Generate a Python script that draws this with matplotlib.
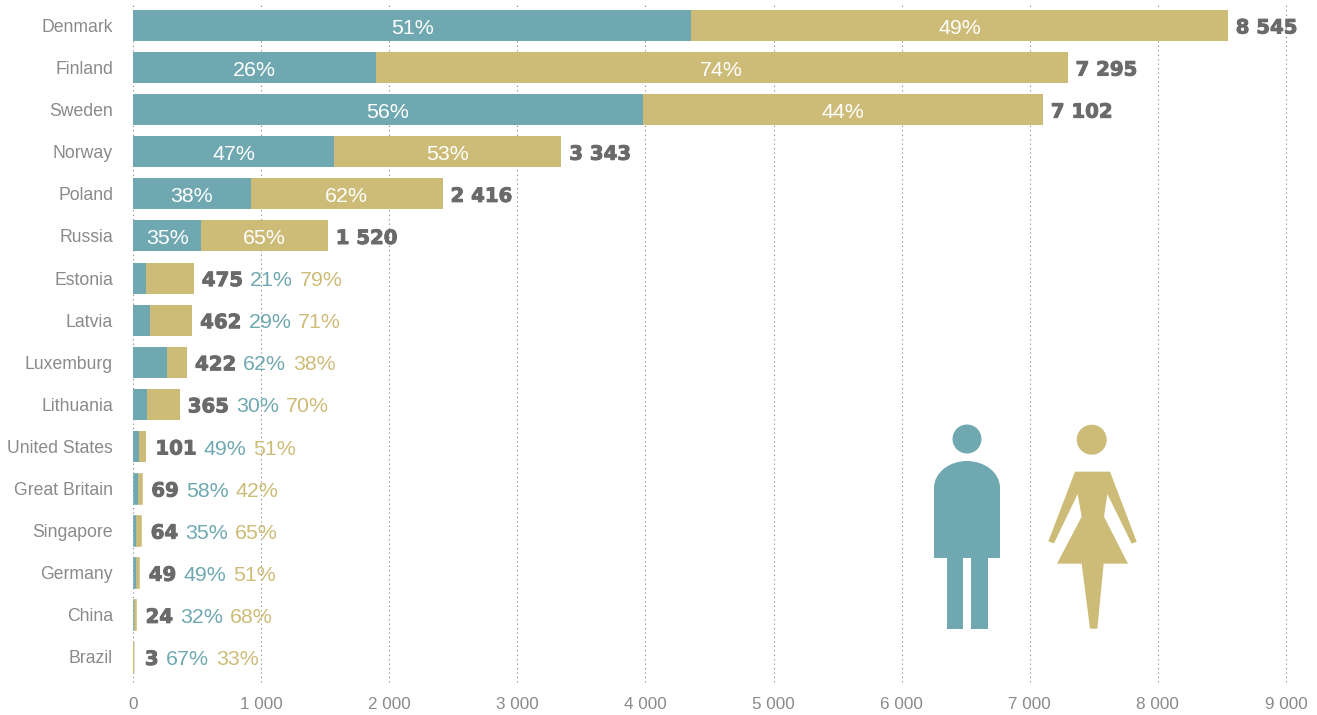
import matplotlib
matplotlib.use("Agg")
import matplotlib.pyplot as plt
import matplotlib.patheffects as pe
from matplotlib.patches import Circle, Polygon, PathPatch, Rectangle
from matplotlib.path import Path

countries = ["Denmark", "Finland", "Sweden", "Norway", "Poland", "Russia", "Estonia", "Latvia",
             "Luxemburg", "Lithuania", "United States", "Great Britain", "Singapore", "Germany",
             "China", "Brazil"]
totals = [8545, 7295, 7102, 3343, 2416, 1520, 475, 462, 422, 365, 101, 69, 64, 49, 24, 3]
men_pct = [51, 26, 56, 47, 38, 35, 21, 29, 62, 30, 49, 58, 35, 49, 32, 67]
women_pct = [49, 74, 44, 53, 62, 65, 79, 71, 38, 70, 51, 42, 65, 51, 68, 33]
x_ticks = [0, 1000, 2000, 3000, 4000, 5000, 6000, 7000, 8000, 9000]

TEAL = "#6FA8B0"
GOLD = "#CDBC78"
DARK = "#6A6A6A"
LABEL = "#8A8A8A"
FONT = "Liberation Sans"
W, H = 1317, 715


def spaced(n):
    return f"{n:,}".replace(",", " ")


fig = plt.figure(figsize=(W / 100, H / 100), dpi=100, facecolor="white")
ax = fig.add_axes([133 / W, 1 - 682 / H, (1286 - 133) / W, (682 - 3) / H])
ax.set_xlim(0, 9000)
ax.set_ylim(15.594, -0.534)
ax.set_axisbelow(True)
for s in ax.spines.values():
    s.set_visible(False)
ax.xaxis.grid(True, color="#808080", linestyle=(0, (1, 3)), linewidth=0.8)
for gl in ax.get_xgridlines():
    gl.set_clip_on(False)
ax.yaxis.grid(False)
ax.tick_params(length=0)

ys = list(range(len(countries)))
men = [t * p / 100 for t, p in zip(totals, men_pct)]
women = [t * p / 100 for t, p in zip(totals, women_pct)]
# Very short bars get a hairline outline so they stay visible
edge = [1.0 if t < 10 else 0.4 if t < 100 else 0 for t in totals]
ax.barh(ys, men, height=0.737, color=TEAL, edgecolor=TEAL, linewidth=edge, zorder=2)
ax.barh(ys, women, left=men, height=0.737, color=GOLD, edgecolor=GOLD, linewidth=edge, zorder=2)

ax.set_yticks(ys, countries, fontname=FONT, fontsize=12.7, color=LABEL)
ax.tick_params(axis="y", pad=14.4)
ax.set_xticks(x_ticks, [spaced(v) for v in x_ticks], fontname=FONT, fontsize=12.3, color=LABEL)
ax.tick_params(axis="x", pad=11)

INSIDE_MIN = 1000
heavy = [pe.withStroke(linewidth=0.7, foreground=DARK)]
for y, t, m, w, mp, wp in zip(ys, totals, men, women, men_pct, women_pct):
    gap = 8 if t >= 150 else 9.5 if t > 3 else 11.5
    total_txt = ax.annotate(spaced(t), xy=(t, y), xytext=(gap, -2.5), textcoords="offset pixels",
                            ha="left", va="center", fontname="DejaVu Sans", fontweight="bold",
                            fontsize=14.2, color=DARK, zorder=3, path_effects=heavy)
    if t >= INSIDE_MIN:
        for cx, p in ((m / 2, mp), (m + w / 2, wp)):
            ax.text(cx, y + 0.06, f"{p}%", ha="center", va="center", fontname=FONT,
                    fontsize=15.4, color="white", zorder=3)
    else:
        a = ax.annotate(f"{mp}%", xy=(1, y + 0.06), xycoords=(total_txt, "data"), xytext=(7, 0),
                        textcoords="offset pixels", ha="left", va="center", fontname=FONT,
                        fontsize=15.4, color=TEAL, zorder=3)
        ax.annotate(f"{wp}%", xy=(1, y + 0.06), xycoords=(a, "data"), xytext=(7, 0),
                    textcoords="offset pixels", ha="left", va="center", fontname=FONT,
                    fontsize=15.4, color=GOLD, zorder=3)

# Man and woman pictograms, laid out on a pixel grid over the chart
icons = fig.add_axes([0, 0, 1, 1], facecolor="none")
icons.set_xlim(0, W)
icons.set_ylim(H, 0)
icons.axis("off")

icons.add_patch(Circle((967, 439), 14.5, color=TEAL, lw=0))
torso = Path(
    [(934, 558), (934, 488), (934, 472), (950, 461), (967, 461), (984, 461), (1000, 472), (1000, 488),
     (1000, 558), (934, 558)],
    [Path.MOVETO, Path.LINETO, Path.CURVE4, Path.CURVE4, Path.CURVE4, Path.CURVE4, Path.CURVE4,
     Path.CURVE4, Path.LINETO, Path.CLOSEPOLY],
)
icons.add_patch(PathPatch(torso, color=TEAL, lw=0))
icons.add_patch(Rectangle((946.7, 558), 16, 70.7, color=TEAL, lw=0))
icons.add_patch(Rectangle((971.4, 558), 16.3, 70.7, color=TEAL, lw=0))

icons.add_patch(Circle((1091.7, 439.7), 15, color=GOLD, lw=0))
dress = [(525, 215), (630, 215), (710, 425), (695, 431), (622, 282), (612, 350), (684, 491), (611, 491),
         (592, 686), (570, 686), (545, 491), (471, 491), (545, 350), (533, 282), (462, 430), (445, 424)]
icons.add_patch(Polygon([(900 + a / 3, 400 + b / 3) for a, b in dress], closed=True, color=GOLD, lw=0))

fig.savefig("out.png", dpi=100)
